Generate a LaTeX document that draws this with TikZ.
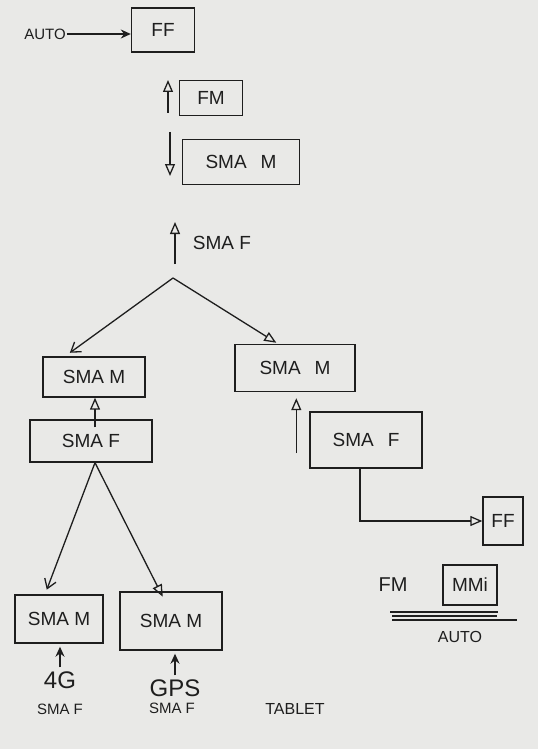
\documentclass[tikz,border=0pt]{standalone}
\usepackage{fontspec}
\setmainfont{Liberation Sans}
\usetikzlibrary{arrows.meta}
\definecolor{paper}{RGB}{233,233,231}
\definecolor{ink}{RGB}{30,30,30}
\tikzset{
  box/.style={draw=ink, line width=1.4pt, inner sep=0pt, font=\fontsize{19}{22}\selectfont, text=ink},
  lbl/.style={inner sep=1pt, text=ink},
  link/.style={draw=ink, line width=1.3pt},
  uparrow/.style={link, -{Triangle[open, length=12pt, width=10pt]}},
  vee/.style={link, -{Straight Barb[length=9pt, width=12pt]}},
  solidhead/.style={link, -{Stealth[length=10pt, width=9pt]}},
}
\begin{document}
\begin{tikzpicture}[x=1pt, y=-1pt]
\fill[paper] (0,0) rectangle (538,749);
\useasboundingbox (0,0) rectangle (538,749);

% top chain
\node[lbl, font=\fontsize{15}{17}\selectfont] (auto1) at (45,34) {AUTO};
\node[box, minimum width=63pt, minimum height=44pt] (ff1) at (163,30) {FF};
\node[box, minimum width=63pt, minimum height=35pt] (fm1) at (211,98) {FM};
\node[box, minimum width=117pt, minimum height=45pt] (smam1) at (241,162) {SMA\hspace{14pt}M};
\node[lbl, font=\fontsize{19}{22}\selectfont] (smaf1) at (222,243) {SMA F};

\draw[solidhead] (auto1.east) -- (auto1.east -| ff1.west);
\coordinate (a1s) at (168,113);
\coordinate (a1e) at (168,80);
\draw[uparrow] (a1s) -- (a1e);
\coordinate (a2s) at (170,132);
\coordinate (a2e) at (170,176);
\draw[uparrow] (a2s) -- (a2e);
\coordinate (a3s) at (175,264);
\coordinate (a3e) at (175,222);
\draw[uparrow] (a3s) -- (a3e);

% split
\node[box, minimum width=102pt, minimum height=40pt] (smaml) at (94,377) {SMA M};
\node[box, minimum width=120pt, minimum height=47pt] (smamr) at (295,368) {SMA\hspace{14pt}M};
\coordinate (split) at (173,278);
\draw[vee, shorten >=6pt] (split) -- ([xshift=-29pt]smaml.north);
\draw[uparrow, shorten >=2pt] (split) -- ([xshift=-17pt]smamr.north);

% left branch
\node[box, minimum width=122pt, minimum height=42pt] (smafl) at (91,441) {SMA F};
\draw[uparrow] ([xshift=4pt, yshift=-8pt]smafl.north) -- ([xshift=1pt]smaml.south);

\node[box, minimum width=88pt, minimum height=48pt] (smamll) at (59,619) {SMA M};
\node[box, minimum width=102pt, minimum height=58pt] (smamlr) at (171,621) {SMA M};
\draw[vee, shorten >=5pt] ([xshift=4pt]smafl.south) -- ([xshift=-14pt]smamll.north);
\draw[uparrow, shorten >=-6pt] ([xshift=4pt]smafl.south) -- ([xshift=-11pt]smamlr.north);

\node[lbl, font=\fontsize{24}{26}\selectfont] (g4) at (60,680) {4G};
\node[lbl, font=\fontsize{15}{17}\selectfont] (smafll) at (60,709) {SMA F};
\node[lbl, font=\fontsize{24}{26}\selectfont] (gps) at (175,688) {GPS};
\node[lbl, font=\fontsize{15}{17}\selectfont] (smaflr) at (172,708) {SMA F};
\node[lbl, font=\fontsize{16}{18}\selectfont] (tablet) at (295,709) {TABLET};
\draw[solidhead, shorten <=3pt, shorten >=3pt] (g4.north) -- (g4.north |- smamll.south);
\draw[solidhead, shorten <=3pt, shorten >=3pt] (gps.north) -- (gps.north |- smamlr.south);

% right branch
\node[box, minimum width=112pt, minimum height=56pt] (smafr) at (366,440) {SMA\hspace{14pt}F};
\coordinate (rtail) at ([shift={(-13pt,-13pt)}]smafr.west);
\draw[uparrow, shorten >=6pt] (rtail) -- (rtail |- smamr.south);
\node[box, minimum width=40pt, minimum height=48pt] (ff2) at (503,521) {FF};
\draw[uparrow] ([xshift=-6pt]smafr.south) |- (ff2.west);

% legend
\node[lbl, font=\fontsize{20}{22}\selectfont] (fm2) at (393,585) {FM};
\node[box, minimum width=54pt, minimum height=40pt] (mmi) at (470,585) {MMi};
\coordinate (l1a) at (390,612); \coordinate (l1b) at (498,612);
\coordinate (l2a) at (392,616); \coordinate (l2b) at (497,616);
\coordinate (l3a) at (392,620); \coordinate (l3b) at (517,620);
\draw[link] (l1a) -- (l1b);
\draw[link] (l2a) -- (l2b);
\draw[link] (l3a) -- (l3b);
\node[lbl, font=\fontsize{16}{18}\selectfont] (auto2) at (460,637) {AUTO};
\end{tikzpicture}
\end{document}
